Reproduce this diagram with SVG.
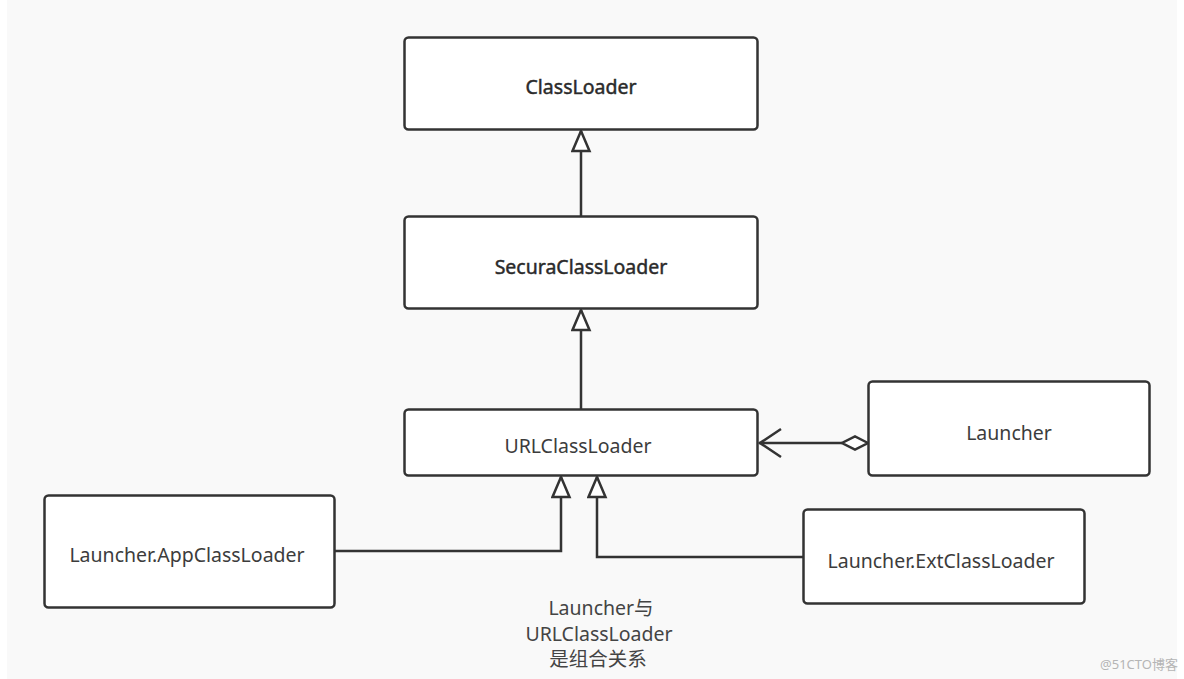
<svg xmlns="http://www.w3.org/2000/svg" width="1184" height="679" viewBox="0 0 1184 679">
<defs>
<style>
.box{fill:#fff;stroke:#333;stroke-width:2.5}
.lbl{font-family:"Noto Sans","Liberation Sans",sans-serif;font-size:19.5px;fill:#3c3c3c;text-anchor:middle;dominant-baseline:central}
.strong{fill:#2a2a2a;stroke:#2a2a2a;stroke-width:0.45}
.ln{fill:none;stroke:#333;stroke-width:2.5}
.note{font-family:"Noto Sans","Noto Sans CJK SC",sans-serif;font-size:19.5px;fill:#444;text-anchor:middle}
</style>
<marker id="tri" markerWidth="24" markerHeight="24" refX="22" refY="10" orient="auto" markerUnits="userSpaceOnUse" viewBox="0 0 24 24">
<path d="M22,10 L2,1.5 L2,18.5 Z" fill="#fff" stroke="#333" stroke-width="2.5"/>
</marker>
</defs>
<rect x="0" y="0" width="1184" height="679" fill="#fff"/>
<rect x="7" y="0" width="1170" height="679" fill="#f9f9f9"/>
<g id="connectors">
<path class="ln" d="M581,216 V131" marker-end="url(#tri)"/>
<path class="ln" d="M581,409 V310" marker-end="url(#tri)"/>
<path class="ln" d="M335,551 H561 V477" marker-end="url(#tri)"/>
<path class="ln" d="M803,557 H597 V477" marker-end="url(#tri)"/>
<path class="ln" d="M842,443 H759"/>
<path class="ln" d="M781,429 L760,443 L781,457"/>
<path d="M868,443 L855,436.5 L842,443 L855,449.5 Z" fill="#fff" stroke="#333" stroke-width="2.5"/>
</g>
<g id="n-classloader"><rect class="box" x="404.5" y="37.5" width="353" height="92" rx="4"/><text class="lbl strong" x="581" y="86">ClassLoader</text></g>
<g id="n-secura"><rect class="box" x="404.5" y="216.5" width="353" height="92" rx="4"/><text class="lbl strong" x="581" y="266">SecuraClassLoader</text></g>
<g id="n-url"><rect class="box" x="404.5" y="409.5" width="353" height="66" rx="4"/><text class="lbl" x="578" y="445">URLClassLoader</text></g>
<g id="n-launcher"><rect class="box" x="868.5" y="381.5" width="281" height="94" rx="4"/><text class="lbl" x="1009" y="432">Launcher</text></g>
<g id="n-app"><rect class="box" x="44.5" y="495.5" width="290" height="112" rx="4"/><text class="lbl" x="187" y="554">Launcher.AppClassLoader</text></g>
<g id="n-ext"><rect class="box" x="803.5" y="509.5" width="281" height="94" rx="4"/><text class="lbl" x="941" y="560">Launcher.ExtClassLoader</text></g>
<g id="note">
<text class="note" x="601" y="615">Launcher与</text>
<text class="note" x="599" y="641">URLClassLoader</text>
<text class="note" x="598" y="666">是组合关系</text>
</g>
<text x="1139" y="669" font-family="Noto Sans, Noto Sans CJK SC, sans-serif" font-size="13" fill="#b5b5b5" text-anchor="middle">@51CTO博客</text>
</svg>
